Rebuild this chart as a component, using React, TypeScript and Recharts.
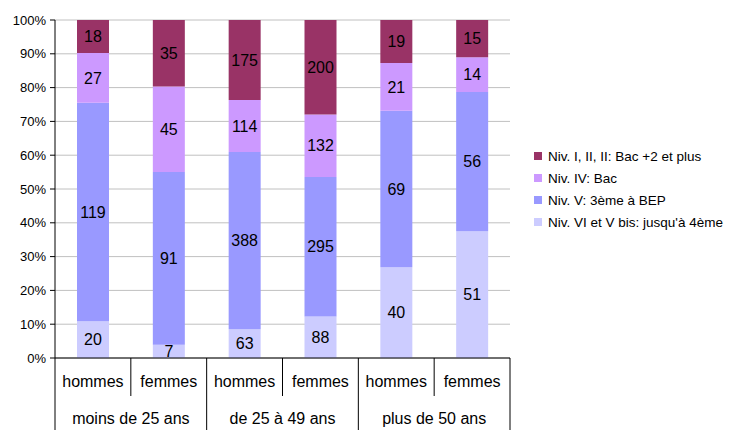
import { BarChart, Bar, XAxis, YAxis, CartesianGrid, LabelList } from 'recharts';

// categories and groups (multi-level axis)
const categories = ['hommes', 'femmes', 'hommes', 'femmes', 'hommes', 'femmes'];
const groups = ['moins de 25 ans', 'moins de 25 ans', 'de 25 à 49 ans', 'de 25 à 49 ans', 'plus de 50 ans', 'plus de 50 ans'];

// series, bottom to top
const nivVI = [20, 7, 63, 88, 40, 51];
const nivV = [119, 91, 388, 295, 69, 56];
const nivIV = [27, 45, 114, 132, 21, 14];
const nivI = [18, 35, 175, 200, 19, 15];

const yTicks = [0, 0.1, 0.2, 0.3, 0.4, 0.5, 0.6, 0.7, 0.8, 0.9, 1];

const series = [
  { key: 'nivVI', name: "Niv. VI et V bis: jusqu'à 4ème", color: '#CCCCFF' },
  { key: 'nivV', name: 'Niv. V: 3ème à BEP', color: '#9999FF' },
  { key: 'nivIV', name: 'Niv. IV: Bac', color: '#CC99FF' },
  { key: 'nivI', name: 'Niv. I, II, II: Bac +2 et plus', color: '#993366' },
];

const data = categories.map((sex, i) => ({
  id: i,
  sex,
  group: groups[i],
  nivVI: nivVI[i],
  nivV: nivV[i],
  nivIV: nivIV[i],
  nivI: nivI[i],
}));

const FONT = '"Liberation Sans", Arial, sans-serif';
const W = 733;
const H = 430;
const PLOT_LEFT = 55;
const PLOT_RIGHT = 510;
const PLOT_TOP = 20;
const PLOT_BOTTOM = 358;
const HALF = (PLOT_RIGHT - PLOT_LEFT) / categories.length / 2;

function CategoryTick(props: any) {
  const { x, index } = props;
  const y0 = PLOT_BOTTOM;
  const row = data[index];
  const even = index % 2 === 0;
  return (
    <g>
      <text x={x} y={y0 + 29} textAnchor="middle" fontSize={16} fontFamily={FONT} fill="#000">
        {row.sex}
      </text>
      {index === 0 && <line x1={x - HALF} x2={x - HALF} y1={y0} y2={H} stroke="#000" />}
      <line x1={x + HALF} x2={x + HALF} y1={y0} y2={even ? y0 + 38 : H} stroke="#000" />
      {even && (
        <text x={x + HALF} y={y0 + 66} textAnchor="middle" fontSize={16} fontFamily={FONT} fill="#000">
          {row.group}
        </text>
      )}
    </g>
  );
}

export default function App() {
  return (
    <div style={{ position: 'absolute', left: 0, top: 0, width: W, height: H, background: '#fff' }}>
      <BarChart
        width={W}
        height={H}
        data={data}
        stackOffset="expand"
        barSize={32}
        margin={{ top: PLOT_TOP, right: W - PLOT_RIGHT, left: 0, bottom: 0 }}
      >
        <CartesianGrid vertical={false} stroke="#c0c0c0" />
        <XAxis
          dataKey="id"
          height={H - PLOT_BOTTOM}
          axisLine={{ stroke: '#000' }}
          tickLine={false}
          tickSize={0}
          tick={<CategoryTick />}
          interval={0}
        />
        <XAxis xAxisId="top" dataKey="id" orientation="top" height={0} tick={false} tickLine={false} axisLine={{ stroke: '#808080' }} />
        <YAxis
          width={PLOT_LEFT}
          ticks={yTicks}
          domain={[0, 1]}
          tickFormatter={(v: number) => `${Math.round(v * 100)}%`}
          axisLine={{ stroke: '#000' }}
          tickLine={{ stroke: '#000' }}
          tickSize={5}
          tickMargin={4}
          tick={{ fontSize: 13, fontFamily: FONT, fill: '#000' }}
          interval={0}
        />
        <YAxis yAxisId="right" orientation="right" width={0} domain={[0, 1]} tick={false} tickLine={false} axisLine={{ stroke: '#808080' }} />
        {series.map((s) => (
          <Bar key={s.key} dataKey={s.key} name={s.name} stackId="a" fill={s.color} isAnimationActive={false}>
            <LabelList dataKey={s.key} position="center" fill="#000" fontSize={16} fontFamily={FONT} />
          </Bar>
        ))}
      </BarChart>
      <div style={{ position: 'absolute', left: 534, top: 145, fontFamily: FONT, fontSize: 13.5, color: '#000' }}>
        {[...series].reverse().map((s) => (
          <div key={s.key} style={{ display: 'flex', alignItems: 'center', height: 22, whiteSpace: 'nowrap' }}>
            <span style={{ display: 'inline-block', width: 8, height: 8, background: s.color, marginRight: 6 }} />
            <span>{s.name}</span>
          </div>
        ))}
      </div>
    </div>
  );
}
